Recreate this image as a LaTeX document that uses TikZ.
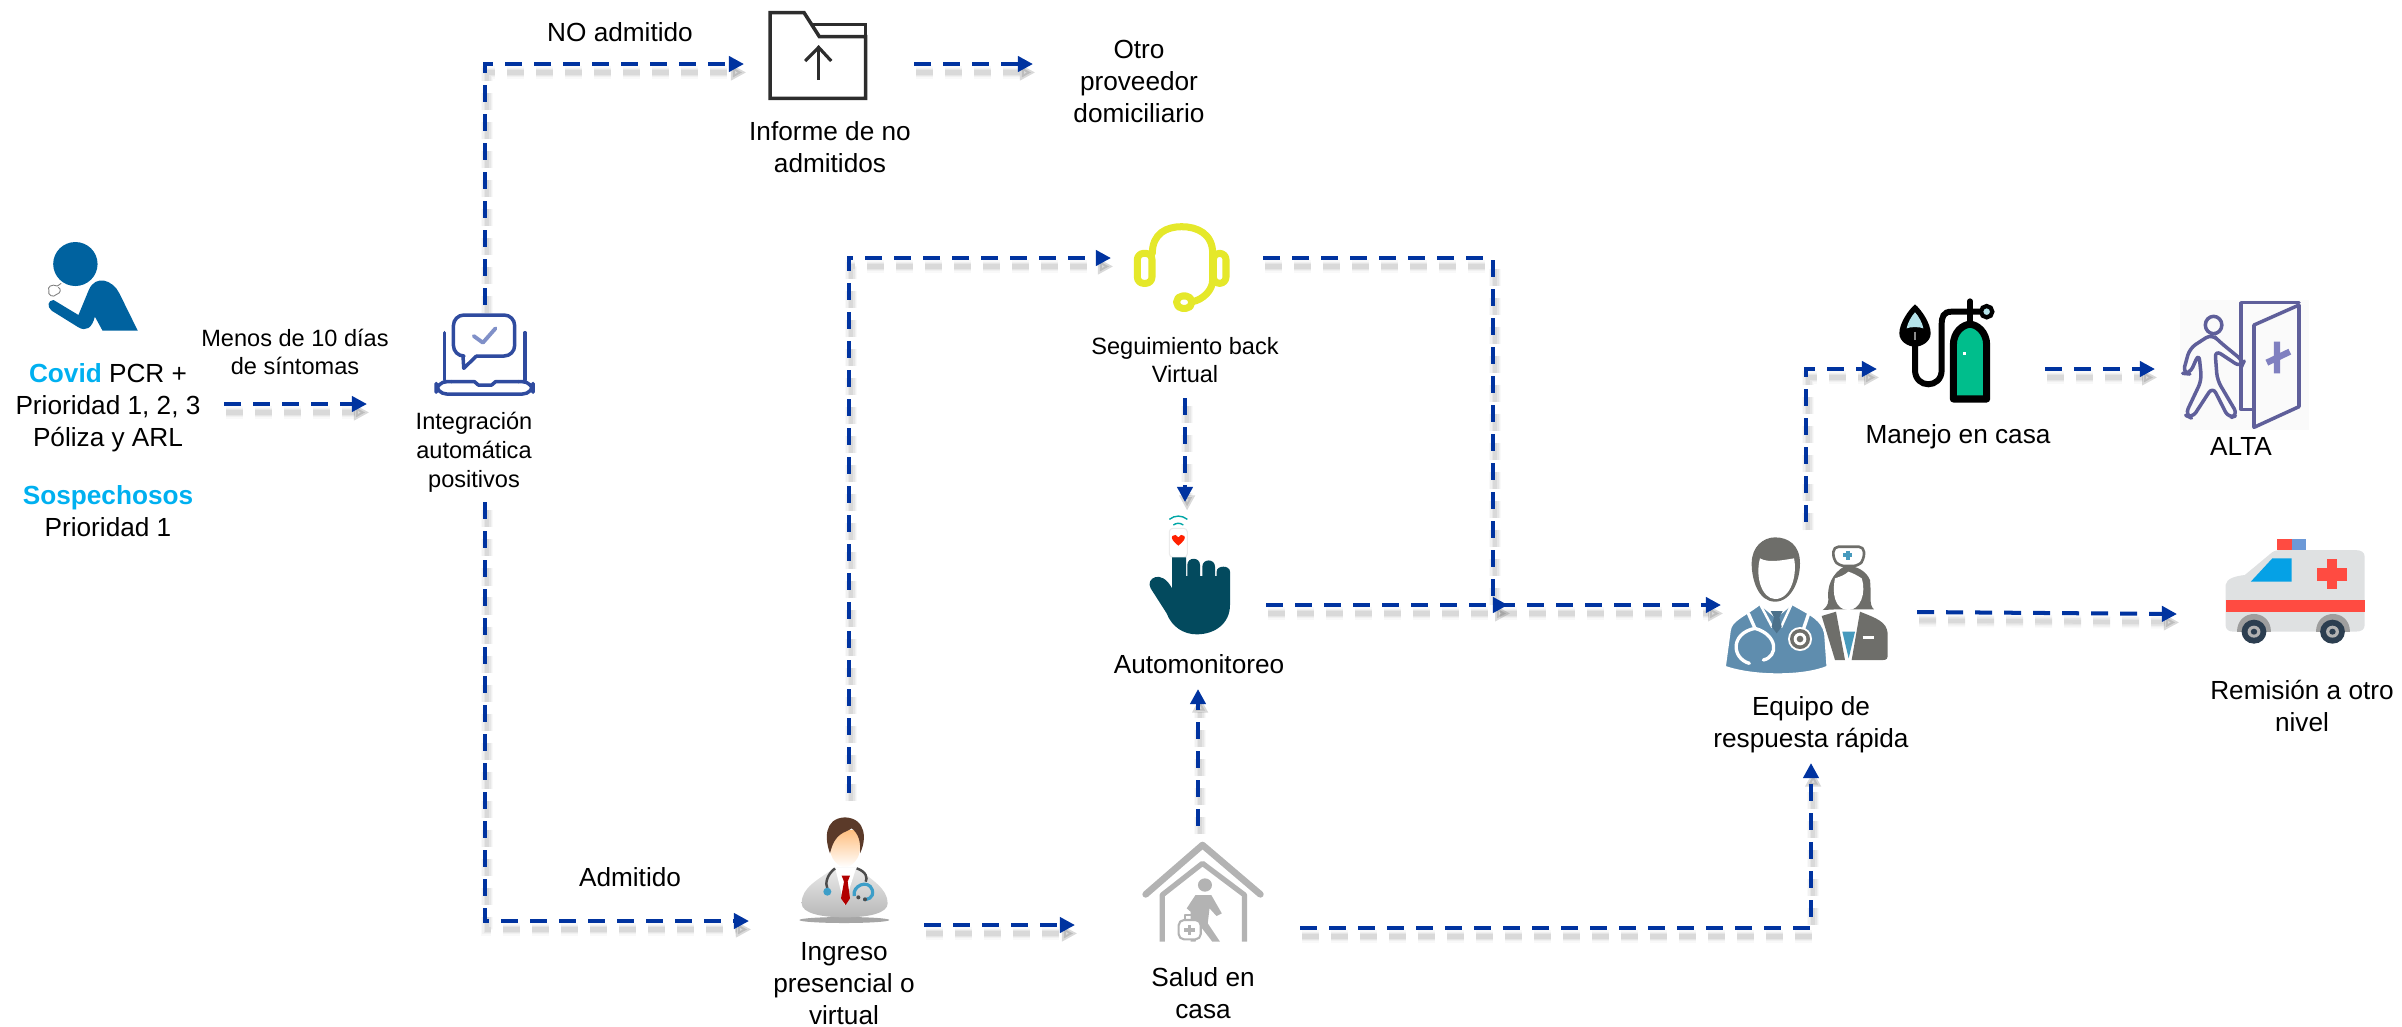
\documentclass[tikz,border=0pt]{standalone}
\usepackage{fontspec}
\setmainfont{Liberation Sans}
\usetikzlibrary{arrows.meta,calc}
\definecolor{flow}{HTML}{0033A0}
\definecolor{cyantxt}{HTML}{00B0F0}
\definecolor{pat}{HTML}{00629F}
\definecolor{lapt}{HTML}{2F4B9F}
\definecolor{laptl}{HTML}{8090C8}
\definecolor{fold}{HTML}{2D2D2D}
\definecolor{head}{HTML}{E5E82A}
\definecolor{handc}{HTML}{034A5E}
\definecolor{housec}{HTML}{B3B3B3}
\definecolor{teamb}{HTML}{5F8DAE}
\definecolor{teamg}{HTML}{6E6E6A}
\definecolor{tank}{HTML}{00BE8C}
\definecolor{altac}{HTML}{5F5F9A}
\definecolor{altal}{HTML}{8080C0}
\definecolor{ambb}{HTML}{DFE1E2}
\definecolor{ambr}{HTML}{FF4B41}
\definecolor{wheelc}{HTML}{2C3E50}
\definecolor{maskc}{HTML}{B5E3EA}
\definecolor{hairc}{HTML}{5B3A29}
\definecolor{stethb}{HTML}{3D9EC8}
\tikzset{
 x=0.01cm,y=-0.01cm,
 iconbox/.style={inner sep=0pt,outer sep=0pt},
 bigt/.style={inner sep=0pt,align=center,text=black,font=\fontsize{7.45pt}{9.1pt}\selectfont},
 smallt/.style={inner sep=0pt,align=center,text=black,font=\fontsize{6.7pt}{8.2pt}\selectfont},
 connmain/.style={draw=flow,line width=1.14pt,dash pattern=on 4.84pt off 3.41pt,-{Triangle[length=4.3pt,width=4.3pt]}},
 connshade/.style={draw=black!65,fill=none,dash pattern=on 4.84pt off 3.41pt,-{Triangle[length=4.3pt,width=4.3pt]},transform canvas={xshift=0.6pt,yshift=-2.4pt}},
 zA/.style={shift={(0,200)},xscale=.38265,yscale=.33333},
 zB/.style={shift={(700,0)},xscale=.38265,yscale=.33333},
 zC/.style={shift={(1050,200)},xscale=.33333,yscale=.33333},
 zD/.style={shift={(1680,270)},xscale=.45918,yscale=.33333},
 zE/.style={shift={(750,780)},xscale=.35077,yscale=.33333},
 zF/.style={shift={(795,810)},xscale=.33333,yscale=.33333},
 zG/.style={shift={(1720,530)},xscale=.33333,yscale=.33333},
 zH/.style={shift={(1890,295)},xscale=.33333,yscale=.33333},
}
\newcommand{\iconbox}[5]{\node[iconbox,minimum width=#4*0.2845pt,minimum height=#5*0.2845pt] (#1) at (#2,#3) {};}
\newcommand{\conn}[1]{%
 \foreach \lw/\op in {3.6pt/.035,2.8pt/.05,2.0pt/.07,1.2pt/.09}{\draw[connshade,line width=\lw,opacity=\op] #1;}%
 \draw[connmain] #1;}
\begin{document}
\begin{tikzpicture}
\useasboundingbox (0,0) rectangle (2402,1026);
% ---------- invisible icon boxes
\iconbox{patient}{93}{286.5}{90}{89}
\iconbox{laptop}{484.5}{354}{99}{82}
\iconbox{folder}{817.5}{55.5}{97}{85}
\iconbox{headset}{1181.5}{267.5}{97}{89}
\iconbox{hand}{1189.5}{575}{81}{120}
\iconbox{doctor}{844.5}{869.5}{87}{107}
\iconbox{house}{1203}{892}{122}{100}
\iconbox{team}{1806.5}{606}{163}{138}
\iconbox{oxygen}{1947.5}{351.5}{97}{103}
\iconbox{alta}{2240.5}{365.5}{121}{127}
\iconbox{amb}{2295}{591}{140}{106}
% ---------- texts
\node[bigt] (tNo) at (620,32) {NO admitido};
\node[bigt] (tInf) at (830,147) {Informe de no\\admitidos};
\node[bigt] (otro) at (1139,81) {Otro\\proveedor\\domiciliario};
\node[bigt] (tCovid) at (108,408) {{\color{cyantxt}\bfseries Covid} PCR +\\Prioridad 1, 2, 3\\Póliza y ARL};
\node[bigt] (tSosp) at (108,511) {{\color{cyantxt}\bfseries Sospechosos}\\Prioridad 1};
\node[smallt] (tMenos) at (295,352) {Menos de 10 días\\de síntomas};
\node[smallt] (tInt) at (474,452) {Integración\\automática\\positivos};
\node[smallt] (tSeg) at (1185,360) {Seguimiento back\\Virtual};
\node[bigt] (tAuto) at (1199,664) {Automonitoreo};
\node[bigt] (tMan) at (1958,437) {Manejo en casa};
\node[bigt] (tAlta) at (2241,446) {ALTA};
\node[bigt] (tEq) at (1811,725) {Equipo de\\respuesta rápida};
\node[bigt] (tRem) at (2302,706) {Remisión a otro\\nivel};
\node[bigt] (tAdm) at (630,877) {Admitido};
\node[bigt] (tIng) at (844,984) {Ingreso\\presencial o\\virtual};
\node[bigt] (tSal) at (1203,993) {Salud en\\casa};
% ---------- connectors
\conn{($(patient)+(131,117.5)$) -- ($(laptop)+(-117.5,50)$)}
\conn{($(laptop)+(0.5,-49)$) |- ($(folder)+(-73.5,8.5)$)}
\conn{($(laptop)+(0.5,148)$) |- ($(doctor)+(-95.5,51.5)$)}
\conn{($(folder)+(96.5,8.5)$) -- ($(otro)+(-106,-17)$)}
\conn{($(doctor)+(4.5,-76.5)$) |- ($(headset)+(-70.5,-9.5)$)}
\conn{($(headset)+(81.5,-9.5)$) -| ($(hand)+(303.5,30)$) -- ($(hand)+(318.5,30)$)}
\conn{($(headset)+(3.5,130.5)$) -- ($(hand)+(-4.5,-73)$)}
\conn{($(hand)+(76.5,30)$) -- ($(team)+(-85.5,-1)$)}
\conn{($(house)+(-5,-66)$) -- ($(hand)+(8.5,114)$)}
\conn{($(doctor)+(79.5,55.5)$) -- ($(house)+(-128,33)$)}
\conn{($(house)+(97,36)$) -| ($(team)+(4.5,157)$)}
\conn{($(team)+(-0.5,-84)$) |- ($(oxygen)+(-70.5,17.5)$)}
\conn{($(oxygen)+(97.5,17.5)$) -- ($(alta)+(-85.5,3.5)$)}
\conn{($(team)+(110.5,6)$) -- ($(amb)+(-118,23)$)}
% ---------- patient
\begin{scope}[zA]
\fill[pat] (197,192) ellipse [x radius=58,y radius=66];
\fill[pat] (360,392) -- (312,280) .. controls (295,240) and (250,222) .. (232,270) -- (205,345) -- (140,300) .. controls (125,300) and (122,320) .. (135,332) -- (205,382) .. controls (225,395) and (240,385) .. (248,350) -- (268,392) -- cycle;
\draw[gray,line width=.25pt] (160,250) -- (150,258) .. controls (135,250) and (122,262) .. (128,272) .. controls (122,285) and (140,295) .. (148,283) .. controls (160,280) and (160,265) .. (152,262);
% laptop
\begin{scope}[lapt,line width=1pt,line cap=round,line join=round]
\draw[rounded corners=3pt] (1210,468) -- (1185,468) -- (1185,345) -- (1345,345) -- (1345,468) -- (1245,468);
\draw (1210,468) -- (1212,505) -- (1245,468);
\draw (1162,398) -- (1162,540);
\draw (1372,398) -- (1372,540);
\draw[rounded corners=3pt] (1180,545) -- (1140,545) -- (1140,582) -- (1393,582) -- (1393,545) -- (1355,545);
\draw (1180,545) -- (1240,545) -- (1250,555) -- (1285,555) -- (1295,545) -- (1355,545);
\end{scope}
\draw[laptl,line width=1.1pt,line cap=round,line join=round] (1238,408) -- (1262,428) -- (1295,385);
\end{scope}
% ---------- folder
\begin{scope}[zB,fold,line width=1pt,line join=miter]
\draw (183,295) -- (183,38) -- (272,38) -- (312,110) -- (433,110) -- (433,295) -- cycle;
\draw (292,73) -- (433,73) -- (433,110);
\draw[line width=.9pt] (310,240) -- (310,142);
\draw[line width=.9pt] (275,183) -- (310,142) -- (343,183);
\end{scope}
% ---------- headset and hand
\begin{scope}[zC]
\begin{scope}[head,line width=2pt,line cap=round,line join=round]
\draw (307,160) .. controls (307,100) and (350,80) .. (395,80) .. controls (440,80) and (488,100) .. (488,160) -- (488,240) .. controls (488,270) and (460,298) .. (428,305);
\draw[rounded corners=1.8pt] (262,160) rectangle (306,250);
\draw[rounded corners=1.8pt] (490,160) rectangle (528,250);
\draw[rounded corners=1.6pt] (380,288) rectangle (425,325);
\end{scope}
\draw[black!8,fill=white,line width=.3pt,rounded corners=1pt] (358,985) rectangle (412,1072);
\fill[handc] (366,1072) -- (408,1072) -- (408,1128) -- (412,1128) -- (412,1095) .. controls (412,1070) and (450,1070) .. (450,1095) -- (450,1128) -- (457,1128) -- (457,1100) .. controls (457,1075) and (495,1075) .. (495,1100) -- (495,1128) -- (500,1128) -- (500,1115) .. controls (500,1095) and (540,1095) .. (540,1115) -- (540,1215) .. controls (540,1270) and (495,1303) .. (440,1303) .. controls (400,1303) and (365,1280) .. (350,1240) -- (302,1165) .. controls (285,1135) and (335,1105) .. (366,1165) -- cycle;
\fill[red!75!orange] (385,1037) .. controls (370,1025) and (362,1015) .. (367,1008) .. controls (372,1002) and (382,1004) .. (385,1012) .. controls (388,1004) and (398,1002) .. (403,1008) .. controls (408,1015) and (400,1025) .. (385,1037);
\draw[teal!70!cyan,line width=.4pt] (358,958) .. controls (375,945) and (395,945) .. (412,958);
\draw[teal!70!cyan,line width=.4pt] (370,975) .. controls (380,968) and (390,968) .. (400,975);
\end{scope}
% ---------- doctor
\begin{scope}[zF]
\fill[black!35] (148,330) ellipse [x radius=135,y radius=9];
\shade[top color=black!8,bottom color=black!28] (20,280) .. controls (20,230) and (70,210) .. (120,172) -- (185,172) .. controls (230,210) and (278,235) .. (278,280) .. controls (278,310) and (220,322) .. (150,322) .. controls (80,322) and (20,310) .. (20,280) -- cycle;
\fill[white] (120,172) -- (148,285) -- (184,172) -- cycle;
\fill[red!70!black] (140,197) -- (165,197) -- (158,215) -- (165,265) -- (152,285) -- (138,265) -- (147,215) -- cycle;
\shade[top color=orange!50!white,bottom color=white] (105,60) -- (195,60) -- (195,115) .. controls (195,145) and (170,172) .. (150,172) .. controls (130,172) and (105,145) .. (105,115) -- cycle;
\fill[hairc] (105,130) .. controls (90,90) and (85,25) .. (150,22) .. controls (215,25) and (215,90) .. (195,130) .. controls (198,95) and (190,70) .. (170,55) .. controls (150,70) and (120,65) .. (105,130) -- cycle;
\draw[black!70,line width=.7pt] (120,175) .. controls (95,195) and (90,220) .. (97,235);
\draw[black!70,line width=.7pt] (185,175) .. controls (215,185) and (218,205) .. (212,215);
\fill[stethb] (97,245) circle [radius=12];
\draw[stethb,line width=.9pt] (178,258) .. controls (170,228) and (220,205) .. (232,240) .. controls (238,265) and (215,270) .. (205,268);
\fill[black!70] (190,262) circle [radius=6];
\fill[black!70] (210,268) circle [radius=6];
\end{scope}
% ---------- house
\begin{scope}[zE,housec,line cap=round,line join=round]
\draw[line width=1.9pt] (1128,343) -- (1290,195) -- (1455,343);
\draw[line width=1.5pt,line cap=butt] (1175,485) -- (1175,345) -- (1290,250) -- (1410,345) -- (1410,485);
\fill (1297,315) circle [radius=20];
\fill (1270,345) -- (1315,345) -- (1345,400) -- (1330,408) -- (1310,385) -- (1305,430) -- (1340,485) -- (1318,485) -- (1285,440) -- (1270,485) -- (1256,485) -- (1256,395) -- (1245,385) -- cycle;
\draw[line width=.6pt,fill=white,rounded corners=1.5pt] (1222,420) rectangle (1285,478);
\draw[line width=.6pt] (1240,420) -- (1240,405) -- (1265,405) -- (1265,420);
\draw[line width=1pt,line cap=butt] (1253,435) -- (1253,465) (1238,450) -- (1268,450);
\end{scope}
% ---------- team
\begin{scope}[zG]
% nurse
\fill[teamg] (305,258) -- (348,245) -- (375,390) -- (345,390) -- cycle;
\fill[teamg] (420,245) -- (395,390) -- (490,390) .. controls (500,390) and (503,385) .. (503,375) -- (503,310) .. controls (500,275) and (470,265) .. (420,245) -- cycle;
\fill[stethb!85!gray] (367,305) -- (405,305) -- (386,385) -- cycle;
\draw[white,line width=.8pt] (428,322) -- (462,322);
\fill[teamg] (375,108) .. controls (335,130) and (320,170) .. (325,210) .. controls (325,225) and (315,235) .. (308,240) -- (350,238) -- (430,238) -- (462,238) .. controls (445,225) and (455,190) .. (450,150) .. controls (440,125) and (410,105) .. (375,108) -- cycle;
\fill[white] (345,145) .. controls (335,190) and (345,240) .. (385,240) .. controls (420,240) and (440,190) .. (425,145) .. controls (410,135) and (395,128) .. (385,125) .. controls (375,135) and (360,140) .. (345,145) -- cycle;
\draw[teamg,fill=white,line width=.75pt,line join=round,rounded corners=1.5pt] (340,50) -- (432,50) -- (432,88) -- (415,108) -- (358,108) -- (340,88) -- cycle;
\draw[stethb!85!gray,line width=1.1pt] (383,62) -- (383,90) (369,76) -- (397,76);
% doctor
\draw[white,line width=.5pt,fill=teamb] (15,410) -- (30,300) .. controls (35,270) and (70,260) .. (120,222) -- (168,262) -- (215,222) .. controls (280,258) and (305,270) .. (315,310) -- (322,410) .. controls (250,440) and (100,440) .. (15,410) -- cycle;
\draw[white,line width=.7pt] (120,222) -- (157,292) (215,222) -- (183,292);
\fill[teamb!80!black] (152,243) -- (188,243) -- (178,262) -- (185,290) -- (170,310) -- (155,290) -- (162,262) -- cycle;
\draw[white,line width=.95pt,line cap=round] (85,250) -- (105,295) .. controls (30,310) and (35,385) .. (88,400);
\draw[white,line width=.95pt,line cap=round] (105,295) .. controls (175,315) and (175,380) .. (130,390);
\draw[white,line width=.95pt] (268,245) -- (250,298);
\fill[white] (240,327) circle [radius=36];
\fill[teamg] (240,327) circle [radius=30];
\fill[white] (240,327) circle [radius=19];
\fill[teamg] (240,327) circle [radius=10];
\fill[teamg] (95,100) .. controls (95,50) and (130,22) .. (165,22) .. controls (205,22) and (240,45) .. (240,100) .. controls (240,150) and (215,215) .. (165,215) .. controls (115,215) and (95,150) .. (95,100) -- cycle;
\fill[white] (120,85) .. controls (145,100) and (190,90) .. (222,85) .. controls (232,130) and (215,207) .. (165,207) .. controls (125,205) and (105,140) .. (120,85) -- cycle;
\end{scope}
% ---------- oxygen
\begin{scope}[zH]
\draw[black,line width=2pt,fill=tank,line join=round] (190,312) -- (190,150) .. controls (190,110) and (220,88) .. (240,88) .. controls (260,88) and (290,110) .. (290,150) -- (290,312) -- cycle;
\fill[white] (220,171) rectangle (228,179);
\draw[black,line width=1.5pt,line cap=round] (240,18) -- (240,88);
\draw[black,line width=1.2pt,fill=maskc] (290,50) circle [radius=17];
\draw[black,line width=1.7pt] (275,50) -- (185,50) .. controls (160,50) and (155,65) .. (155,90) -- (155,225) .. controls (155,282) and (75,282) .. (75,225) -- (75,150);
\fill[black] (75,28) .. controls (55,45) and (28,85) .. (28,115) .. controls (28,140) and (55,155) .. (75,155) .. controls (95,155) and (122,140) .. (122,115) .. controls (122,85) and (95,45) .. (75,28) -- cycle;
\fill[maskc] (75,52) .. controls (65,62) and (52,85) .. (50,100) .. controls (60,95) and (90,95) .. (100,100) .. controls (98,85) and (85,62) .. (75,52) -- cycle;
\draw[black!45,line width=.5pt] (75,110) -- (75,135);
\end{scope}
% ---------- alta and ambulance
\begin{scope}[zD]
\fill[black!2] (1088,90) rectangle (1370,480);
\begin{scope}[altac,line width=1pt,line join=round,line cap=round]
\draw (1248,418) -- (1222,418) -- (1222,98) -- (1348,98);
\draw (1250,165) -- (1348,105) -- (1348,410) -- (1250,472) -- cycle;
\draw (1162,165) ellipse [x radius=18,y radius=26];
\draw[rounded corners=2pt] (1158,192) -- (1110,235) -- (1095,310) -- (1110,312) -- (1130,250) -- (1136,330) -- (1100,435) -- (1115,445) -- (1160,350) -- (1195,445) -- (1215,435) -- (1170,330) -- (1165,240) -- (1222,292) -- (1228,275) -- (1175,215) -- cycle;
\end{scope}
\draw[altal,line width=1.8pt] (1300,215) -- (1300,310) (1278,278) -- (1328,245);
\fill[ambr] (1300,808) rectangle (1333,841);
\fill[cyan!50!blue!60!white] (1333,808) rectangle (1364,841);
\fill[ambb] (1188,945) .. controls (1190,925) and (1210,918) .. (1230,915) -- (1285,852) .. controls (1292,842) and (1300,840) .. (1310,840) -- (1470,840) .. controls (1485,840) and (1491,848) .. (1491,860) -- (1491,1065) .. controls (1491,1078) and (1485,1085) .. (1470,1085) -- (1205,1085) .. controls (1195,1085) and (1188,1078) .. (1188,1065) -- cycle;
\fill[ambr] (1188,990) rectangle (1491,1025);
\fill[cyan!90!blue] (1243,935) -- (1290,865) -- (1332,865) -- (1332,935) -- cycle;
\fill[ambr] (1409,868) rectangle (1431,958);
\fill[ambr] (1387,893) rectangle (1453,932);
\foreach \wx in {1250,1421}{
 \fill[black!38] ({\wx-37},1085) .. controls ({\wx-37},1015) and ({\wx+37},1015) .. ({\wx+37},1085) -- cycle;
 \fill[wheelc] (\wx,1085) ellipse [x radius=27,y radius=36];
 \fill[black!30] (\wx,1085) ellipse [x radius=14,y radius=18];
 \fill[wheelc] (\wx,1085) ellipse [x radius=7,y radius=9];
}
\end{scope}
\end{tikzpicture}
\end{document}
